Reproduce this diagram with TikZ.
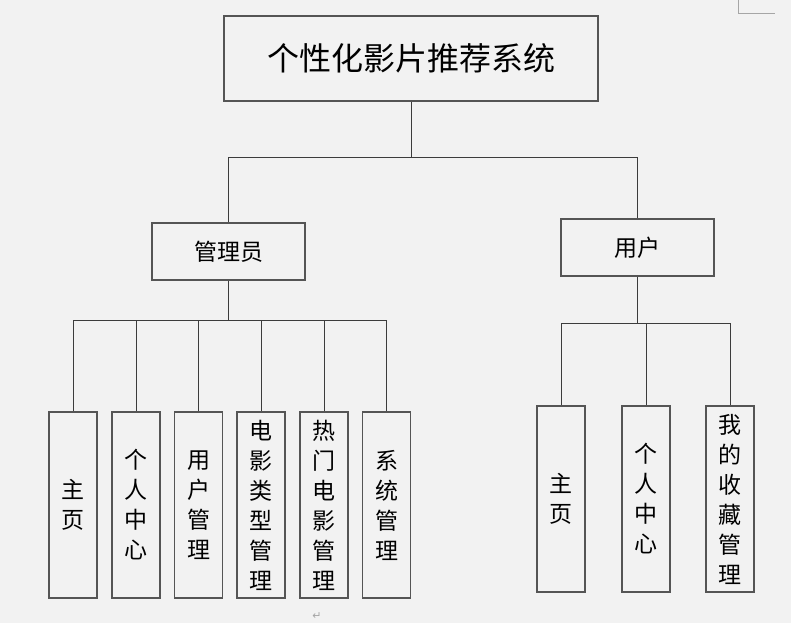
\documentclass[tikz,border=0pt]{standalone}
\usepackage{fontspec}
\usepackage{xcolor}
\usetikzlibrary{positioning, calc}
\newfontfamily\cjk{Noto Sans CJK SC}
\newfontfamily\symfont{DejaVu Sans}
\definecolor{pagebg}{HTML}{F2F2F2}
\definecolor{linegray}{HTML}{3C3C3C}
\definecolor{boxgray}{HTML}{555555}
\definecolor{markgray}{HTML}{A6A6A6}

\begin{document}
\begin{tikzpicture}[
    x=1pt, y=-1pt,
    box/.style={rectangle, draw=boxgray, line width=1.1pt, inner sep=0pt,
                align=center, text=black, font=\cjk\fontsize{23}{30}\selectfont},
    title/.style={box, minimum width=374pt, minimum height=85pt,
                  font=\cjk\fontsize{32}{36}\selectfont},
    role/.style={box, minimum width=153pt, minimum height=57pt},
    leaf/.style={box, minimum width=48pt, minimum height=186pt},
    link/.style={draw=linegray, line width=1pt}
]
\fill[pagebg] (0,0) rectangle (791,623);
\useasboundingbox (0,0) rectangle (791,623);

\node[title] (sys) at (411,58.5) {个性化影片推荐系统};
\node[role] (admin) at (228.5,251.5) {管理员};
\node[role] (user) at (637.5,247.5) {用户};

% admin side
\node[leaf] (ahome) at (73,505) {主\\页};
\node[leaf] (aself) at (136,505) {个\\人\\中\\心};
\node[leaf] (auser) at (198.5,505) {用\\户\\管\\理};
\node[leaf] (atype) at (261,505) {电\\影\\类\\型\\管\\理};
\node[leaf] (ahot) at (324,505) {热\\门\\电\\影\\管\\理};
\node[leaf] (asys) at (386.5,505) {系\\统\\管\\理};

% user side
\node[leaf] (uhome) at (561,499) {主\\页};
\node[leaf] (uself) at (646,499) {个\\人\\中\\心};
\node[leaf] (ufav) at (730,499) {我\\的\\收\\藏\\管\\理};

\coordinate (topbus) at (411,157);
\coordinate (abus) at (228.5,320);
\coordinate (ubus) at (637.5,323);

\draw[link] (sys.south) -- (topbus);
\draw[link] (topbus) -| (admin.north);
\draw[link] (topbus) -| (user.north);

\draw[link] (admin.south) -- (abus);
\draw[link] (abus) -| (ahome.north);
\draw[link] (abus) -| (aself.north);
\draw[link] (abus) -| (auser.north);
\draw[link] (abus) -| (atype.north);
\draw[link] (abus) -| (ahot.north);
\draw[link] (abus) -| (asys.north);

\draw[link] (user.south) -- (ubus);
\draw[link] (ubus) -| (uhome.north);
\draw[link] (ubus) -| (uself.north);
\draw[link] (ubus) -| (ufav.north);

% page marks
\draw[markgray, line width=0.8pt] (738,0) -- (738,13) -- (775,13);
\node[text=markgray, font=\symfont\fontsize{11}{11}\selectfont] (retmark) at (317,616) {↵};

\end{tikzpicture}
\end{document}
